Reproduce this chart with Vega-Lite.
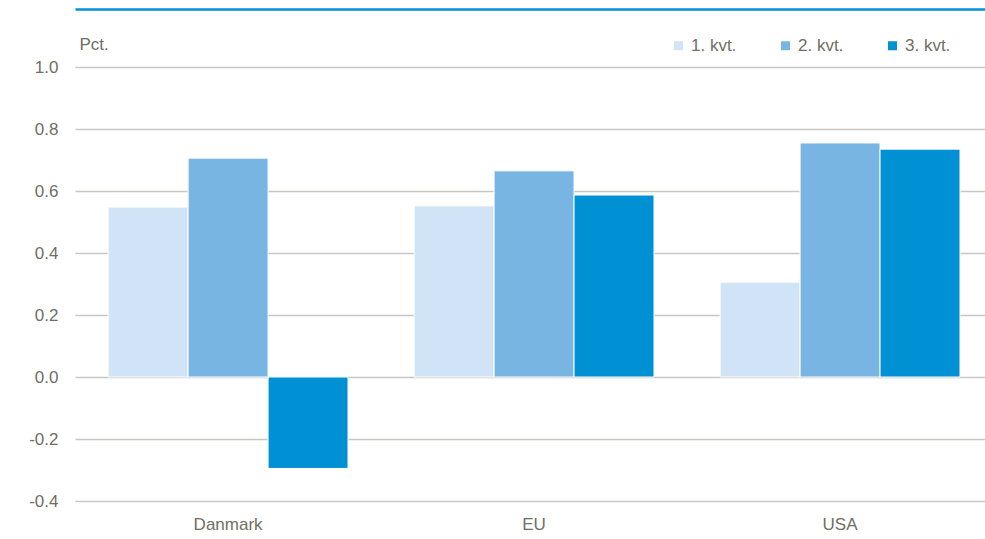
{
  "$schema": "https://vega.github.io/schema/vega-lite/v6.json",
  "width": 910,
  "height": 434,
  "autosize": {"type": "none"},
  "padding": {"left": 75, "top": 67, "right": 0, "bottom": 38},
  "background": "white",
  "config": {
    "view": {"stroke": null},
    "font": "Liberation Sans",
    "axis": {"labelFont": "Liberation Sans", "titleFont": "Liberation Sans"},
    "legend": {"labelFont": "Liberation Sans"}
  },
  "data": {
    "values": [
      {"land": "Danmark", "kvartal": "1. kvt.", "value": 0.548},
      {"land": "Danmark", "kvartal": "2. kvt.", "value": 0.706},
      {"land": "Danmark", "kvartal": "3. kvt.", "value": -0.295},
      {"land": "EU", "kvartal": "1. kvt.", "value": 0.552},
      {"land": "EU", "kvartal": "2. kvt.", "value": 0.665},
      {"land": "EU", "kvartal": "3. kvt.", "value": 0.587},
      {"land": "USA", "kvartal": "1. kvt.", "value": 0.306},
      {"land": "USA", "kvartal": "2. kvt.", "value": 0.755},
      {"land": "USA", "kvartal": "3. kvt.", "value": 0.735}
    ]
  },
  "layer": [
    {
      "mark": {"type": "bar", "stroke": "white", "strokeWidth": 1},
      "encoding": {
        "x": {
          "field": "land", "type": "nominal", "sort": null,
          "scale": {"paddingInner": 0.216, "paddingOuter": 0.095, "align": 0.57},
          "axis": {
            "title": null, "orient": "bottom", "labelAngle": 0, "domain": false, "ticks": false,
            "labelFontSize": 17, "labelColor": "#6F6F62", "labelPadding": 15
          }
        },
        "xOffset": {"field": "kvartal", "type": "nominal", "sort": ["1. kvt.", "2. kvt.", "3. kvt."], "scale": {"paddingInner": 0, "paddingOuter": 0}},
        "y": {
          "field": "value", "type": "quantitative",
          "scale": {"domain": [-0.4, 1.0], "nice": false, "zero": false},
          "axis": {
            "values": [-0.4, -0.2, 0, 0.2, 0.4, 0.6, 0.8, 1.0],
            "labelExpr": "replace(format(datum.value, '.1f'), '\u2212', '-')",
            "title": "Pct.", "titleAngle": 0, "titleAlign": "left", "titleBaseline": "middle",
            "titleX": 4, "titleY": -23, "titleFontSize": 17, "titleFontWeight": "normal", "titleColor": "#6F6F62",
            "labelFontSize": 17, "labelColor": "#6F6F62", "labelPadding": 17,
            "domain": false, "ticks": false,
            "grid": true, "gridColor": "#C8C8C0", "gridWidth": 1.5
          }
        },
        "color": {
          "field": "kvartal", "type": "nominal",
          "sort": ["1. kvt.", "2. kvt.", "3. kvt."],
          "scale": {"domain": ["1. kvt.", "2. kvt.", "3. kvt."], "range": ["#D1E3F6", "#78B5E3", "#0091D5"]},
          "legend": {
            "title": null, "orient": "none", "direction": "horizontal",
            "legendX": 595, "legendY": -30,
            "symbolType": "square", "symbolSize": 81, "symbolStrokeWidth": 0,
            "labelFontSize": 17, "labelColor": "#6F6F62", "labelOffset": 4,
            "columnPadding": 40
          }
        }
      }
    },
    {
      "mark": {"type": "bar", "opacity": 0},
      "encoding": {
        "x": {
          "field": "land", "type": "nominal", "sort": null,
          "axis": {
            "orient": "top", "title": null, "labels": false, "ticks": false, "grid": false,
            "domain": true, "domainColor": "#0091D5", "domainWidth": 2.5, "offset": 58
          }
        },
        "y": {"field": "value", "type": "quantitative"}
      }
    }
  ],
  "resolve": {"axis": {"x": "independent"}}
}
